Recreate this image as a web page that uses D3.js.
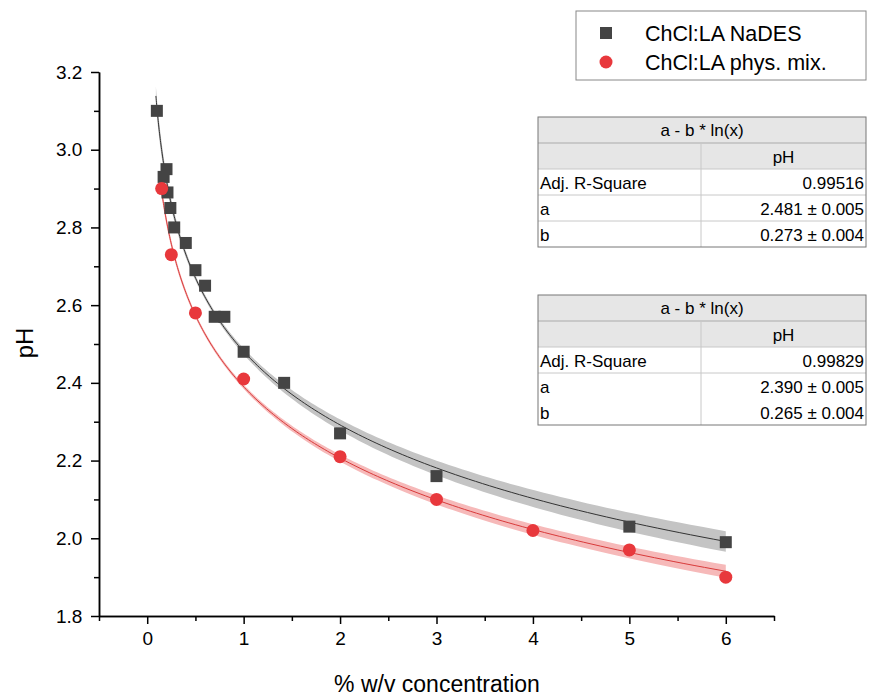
<!DOCTYPE html>
<html>
<head>
<meta charset="utf-8">
<script src="https://cdn.jsdelivr.net/npm/d3@7"></script>
<style>
  body { margin: 0; background: #fff; }
  svg { font-family: "Liberation Sans", Arial, sans-serif; }
</style>
</head>
<body>
<svg id="chart" width="870" height="700"></svg>
<script>
// measured points, NaDES (squares)
let nadesX = [0.1, 0.17, 0.2, 0.21, 0.24, 0.28, 0.4, 0.5, 0.6, 0.7, 0.8, 1.0, 1.42, 2, 3, 5, 6];
let nadesY = [3.10, 2.93, 2.95, 2.89, 2.85, 2.80, 2.76, 2.69, 2.65, 2.57, 2.57, 2.48, 2.40, 2.27, 2.16, 2.03, 1.99];
// physical mixture (circles)
let mixX = [0.15, 0.25, 0.5, 1, 2, 3, 4, 5, 6];
let mixY = [2.90, 2.73, 2.58, 2.41, 2.21, 2.10, 2.02, 1.97, 1.90];

// fit results a - b*ln(x)
let fitNades = { a: 2.481, b: 0.273, x0: 0.09, x1: 6 };
let fitMix = { a: 2.390, b: 0.265, x0: 0.14, x1: 6 };
// band half-width params
let bandNades = { h0: 0.006, k: 0.0118, u0: -0.4 };
let bandMix = { h0: 0.005, k: 0.0075, u0: -0.3 };

let xTicks = [0, 1, 2, 3, 4, 5, 6];
let yTicks = [1.8, 2.0, 2.2, 2.4, 2.6, 2.8, 3.0, 3.2];

let tables = [
    { top: 117, lastLine: true, rows: [["Adj. R-Square", "0.99516"], ["a", "2.481 \u00b1 0.005"], ["b", "0.273 \u00b1 0.004"]] },
    { top: 295, lastLine: false, rows: [["Adj. R-Square", "0.99829"], ["a", "2.390 \u00b1 0.005"], ["b", "0.265 \u00b1 0.004"]] }
];

let svg = d3.select("#chart");

let x = d3.scaleLinear().domain([-0.5, 6.5]).range([99, 774]);
let y = d3.scaleLinear().domain([1.8, 3.2]).range([616, 72]);

// fitted curves and confidence bands
function curvePts(fit) {
    let pts = [];
    let n = 200;
    for (let i = 0; i <= n; i++) {
        // log-spaced so the steep start is smooth
        let xv = Math.exp(Math.log(fit.x0) + (Math.log(fit.x1) - Math.log(fit.x0)) * i / n);
        pts.push(xv);
    }
    return pts;
}

function drawFit(fit, band, fillCol, lineCol) {
    let pts = curvePts(fit);
    let f = function (xv) { return fit.a - fit.b * Math.log(xv); };
    let hw = function (xv) {
        let u = Math.log(xv) - band.u0;
        return Math.sqrt(band.h0 * band.h0 + band.k * band.k * u * u);
    };
    let area = d3.area()
        .x(function (d) { return x(d); })
        .y0(function (d) { return y(f(d) - hw(d)); })
        .y1(function (d) { return y(f(d) + hw(d)); });
    svg.append("path").attr("d", area(pts)).attr("fill", fillCol);
    let line = d3.line()
        .x(function (d) { return x(d); })
        .y(function (d) { return y(f(d)); });
    svg.append("path").attr("d", line(pts))
        .attr("fill", "none").attr("stroke", lineCol).attr("stroke-width", 1);
}

drawFit(fitNades, bandNades, "#c4c4c4", "#333");
drawFit(fitMix, bandMix, "#f6b9b9", "#d83a3a");

// axes
let xAxis = svg.append("g").attr("transform", "translate(0,616)")
    .call(d3.axisBottom(x).tickValues(xTicks).tickSize(8).tickSizeOuter(0).tickFormat(d3.format("d")));
svg.append("g").attr("transform", "translate(0,616)")
    .call(d3.axisBottom(x).tickValues(d3.range(-0.5, 7, 1)).tickSize(5).tickSizeOuter(0).tickFormat(""));
let yAxis = svg.append("g").attr("transform", "translate(99,0)")
    .call(d3.axisLeft(y).tickValues(yTicks).tickSize(8).tickSizeOuter(0).tickFormat(d3.format(".1f")));
svg.append("g").attr("transform", "translate(99,0)")
    .call(d3.axisLeft(y).tickValues(d3.range(1.9, 3.2, 0.2)).tickSize(5).tickSizeOuter(0).tickFormat(""));

svg.selectAll(".domain").attr("stroke", "#000").attr("stroke-width", 1.5);
svg.selectAll(".tick line").attr("stroke", "#000").attr("stroke-width", 1.5);
xAxis.selectAll("text").attr("font-size", 19).attr("dy", "0.95em").attr("font-family", "Liberation Sans");
yAxis.selectAll("text").attr("font-size", 19).attr("dx", "-0.3em").attr("font-family", "Liberation Sans");

svg.append("text").attr("x", 437).attr("y", 692).attr("text-anchor", "middle")
    .attr("font-size", 23).text("% w/v concentration");
svg.append("text").attr("transform", "translate(33,343) rotate(-90)").attr("text-anchor", "middle")
    .attr("font-size", 24).text("pH");

// points
svg.append("g").selectAll("rect").data(nadesX).enter().append("rect")
    .attr("x", function (d) { return x(d) - 6; })
    .attr("y", function (d, i) { return y(nadesY[i]) - 6; })
    .attr("width", 12).attr("height", 12)
    .attr("fill", "#444");

svg.append("g").selectAll("circle").data(mixX).enter().append("circle")
    .attr("cx", function (d) { return x(d); })
    .attr("cy", function (d, i) { return y(mixY[i]); })
    .attr("r", 6.5)
    .attr("fill", "#e8383c");

// legend
let leg = svg.append("g");
leg.append("rect").attr("x", 576).attr("y", 11).attr("width", 290).attr("height", 69)
    .attr("fill", "#fff").attr("stroke", "#888").attr("stroke-width", 1);
leg.append("rect").attr("x", 600).attr("y", 27).attr("width", 12).attr("height", 12).attr("fill", "#444");
leg.append("circle").attr("cx", 606).attr("cy", 62).attr("r", 6.5).attr("fill", "#e8383c");
leg.append("text").attr("x", 645).attr("y", 41).attr("font-size", 21.5).text("ChCl:LA NaDES");
leg.append("text").attr("x", 645).attr("y", 70).attr("font-size", 21.5).text("ChCl:LA phys. mix.");

// fit tables
tables.forEach(function (t) {
    let g = svg.append("g");
    let left = 538, right = 866, mid = 701, rh = 26;
    let top = t.top;
    g.append("rect").attr("x", left).attr("y", top).attr("width", right - left).attr("height", rh * 2)
        .attr("fill", "#e6e6e6");
    g.append("text").attr("x", (left + right) / 2).attr("y", top + 19).attr("text-anchor", "middle")
        .attr("font-size", 17).text("a - b * ln(x)");
    g.append("text").attr("x", (mid + right) / 2).attr("y", top + rh + 20).attr("text-anchor", "middle")
        .attr("font-size", 17).text("pH");
    // inner lines
    for (let i = 1; i < 5; i++) {
        if (i === 4 && !t.lastLine) continue;
        g.append("line").attr("x1", left).attr("x2", right)
            .attr("y1", top + rh * i).attr("y2", top + rh * i)
            .attr("stroke", i === 1 ? "#aaa" : "#c8c8c8").attr("stroke-width", 1);
    }
    g.append("line").attr("x1", mid).attr("x2", mid).attr("y1", top + rh).attr("y2", top + rh * 5)
        .attr("stroke", "#c8c8c8");
    t.rows.forEach(function (r, i) {
        let yy = top + rh * (i + 2) + 20;
        g.append("text").attr("x", left + 2).attr("y", yy).attr("font-size", 17).text(r[0]);
        g.append("text").attr("x", right - 2).attr("y", yy).attr("text-anchor", "end")
            .attr("font-size", 17).text(r[1]);
    });
    g.append("rect").attr("x", left).attr("y", top).attr("width", right - left).attr("height", rh * 5)
        .attr("fill", "none").attr("stroke", "#777").attr("stroke-width", 1);
});
</script>
</body>
</html>
